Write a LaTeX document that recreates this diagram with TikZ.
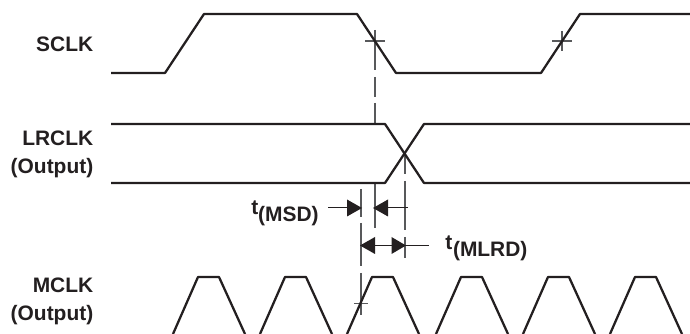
\documentclass[tikz,border=0pt]{standalone}
\usepackage{fontspec}
\setmainfont{Liberation Sans}
\usetikzlibrary{calc}
\definecolor{ink}{HTML}{231F20}
\definecolor{guide}{HTML}{58595B}
\tikzset{x=0.75pt,y=-0.75pt,
  wave/.style={draw=ink,line width=1.7pt,line join=round},
  guideline/.style={draw=guide,line width=0.9pt},
  tick/.style={draw=ink,line width=0.75pt},
  marker/.style={fill=ink,draw=none},
  lab/.style={font=\bfseries\fontsize{15.7}{21}\selectfont,text=ink,align=right,anchor=base east,inner sep=0pt},
  tlab/.style={font=\bfseries\fontsize{15.7}{21}\selectfont,text=ink,anchor=base west,inner sep=0pt}}
\begin{document}
\begin{tikzpicture}
\useasboundingbox (0,0) rectangle (690,334);
% labels
\node[lab] (sclk) at (93.5,52) {SCLK};
\node[lab] (lrclk) at (93.5,174) {LRCLK\\(Output)};
\node[lab] (mclk) at (93.5,321) {MCLK\\(Output)};
\node[tlab] (tmsd) at (251,215) {t\raisebox{-5.2pt}{(MSD)}};
\node[tlab] (tmlrd) at (445,250) {t\kern0.6pt\raisebox{-5.2pt}{(MLRD)}};
% guides
\draw[guideline] (375,30) -- (375,70) (375,77) -- (375,97) (375,103) -- (375,124);
\draw[guideline] (375,183) -- (375,228);
\draw[guideline] (405,153) -- (405,174) (405,181) -- (405,230) (405,237) -- (405,258);
\draw[guideline] (361,189) -- (361,217) (361,223) -- (361,266) (361,273) -- (361,315);
% crosses
\draw[guideline] (365,41) -- (385,41) (552,41) -- (572,41) (562,31) -- (562,51);
\draw[guideline] (354,303.5) -- (368,303.5);
% waves
\draw[wave] (111,73) -- (165,73) -- (204,14) -- (357,14) -- (396,73) -- (541,73) -- (580,14) -- (690,14);
\draw[wave] (111,124) -- (385,124) -- (424,183) -- (690,183);
\draw[wave] (111,183) -- (385,183) -- (424,124) -- (690,124);
\foreach \a in {198,285,372,461,548,635}
  \draw[wave] ($(\a,277)+(-25,57)$) -- (\a,277) -- ($(\a,277)+(21,0)$) -- ($(\a,277)+(47,57)$);
% timing arrows
\draw[tick] (328,208) -- (350,208);
\fill[marker] (362,208) -- (347,199.5) -- (347,216.5) -- cycle;
\fill[marker] (373,208) -- (388,199.5) -- (388,216.5) -- cycle;
\draw[tick] (386,208) -- (408,208);
\fill[marker] (360,245.5) -- (375,237) -- (375,254) -- cycle;
\fill[marker] (406,245.5) -- (391.5,237) -- (391.5,254) -- cycle;
\draw[tick] (373,245.5) -- (393,245.5) (405,245.5) -- (429,245.5);
\end{tikzpicture}
\end{document}
